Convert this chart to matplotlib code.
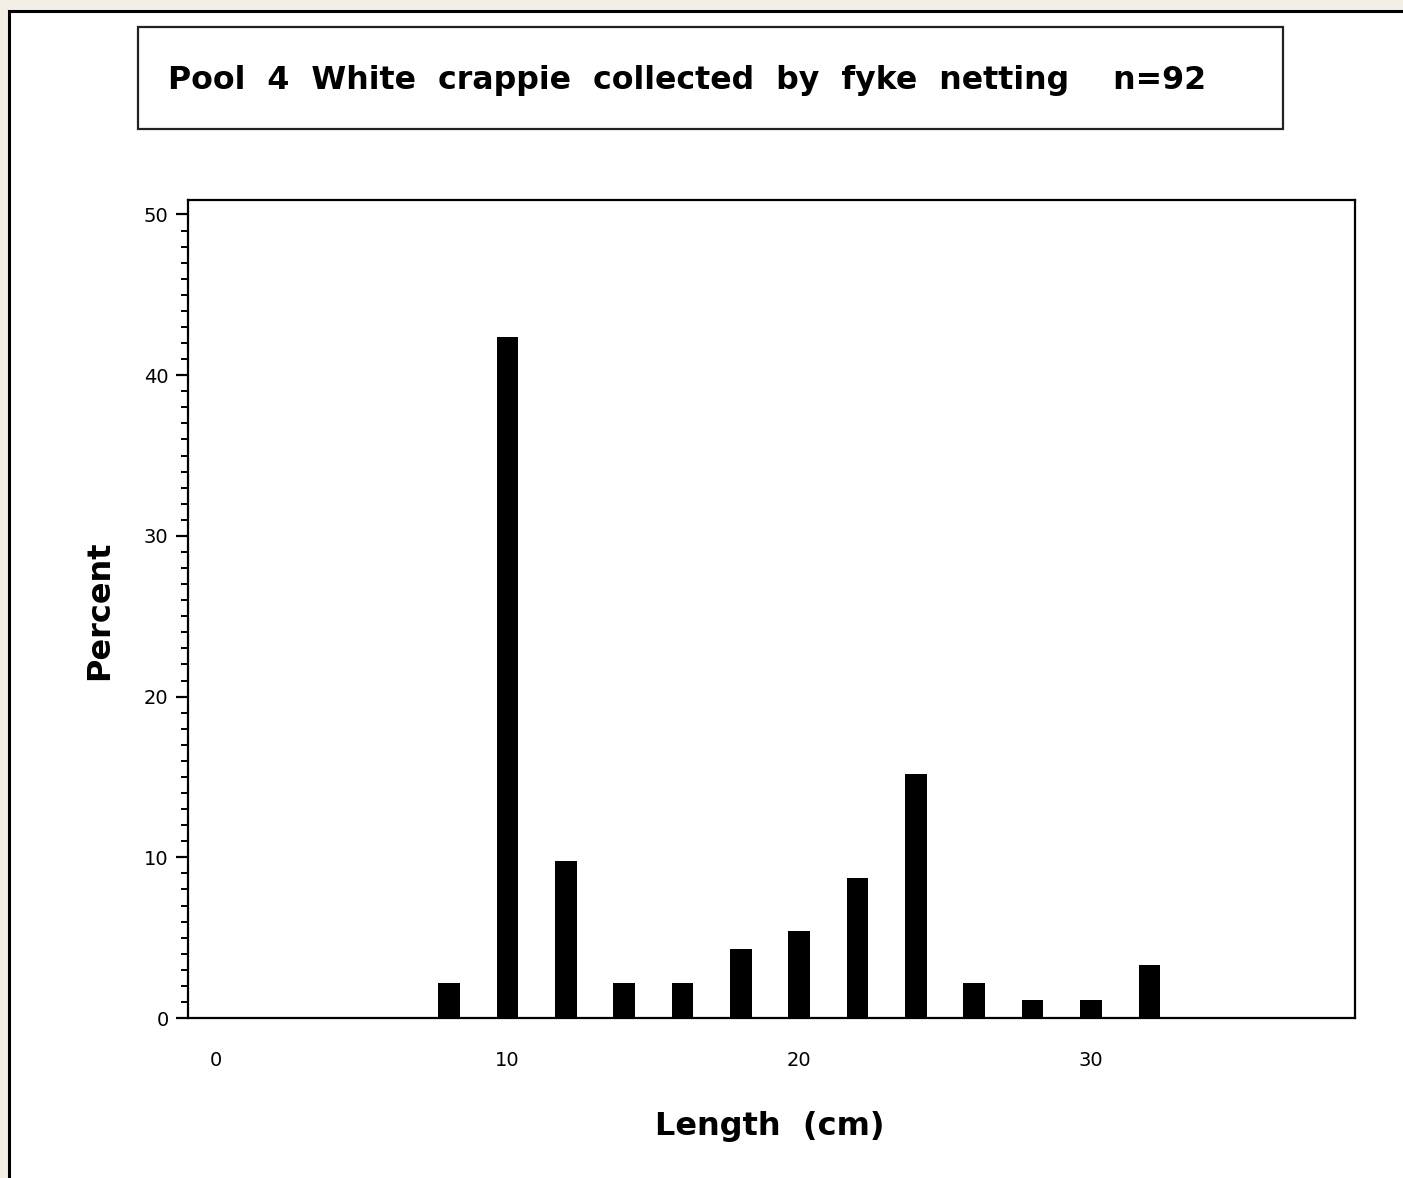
import matplotlib
matplotlib.use("Agg")
import matplotlib.pyplot as plt
from matplotlib.patches import Rectangle
from matplotlib.ticker import MultipleLocator

plt.rcParams["font.family"] = ["DejaVu Sans"]

# Length-frequency data (percent of n=92)
lengths = [8, 10, 12, 14, 16, 18, 20, 22, 24, 26, 28, 30, 32]
percent = [2.2, 42.4, 9.8, 2.2, 2.2, 4.3, 5.4, 8.7, 15.2, 2.2, 1.1, 1.1, 3.3]
x_ticks = [0, 10, 20, 30]
y_ticks = [0, 10, 20, 30, 40, 50]
title = "Pool  4  White  crappie  collected  by  fyke  netting    n=92"

W, H = 1403, 1178
fig = plt.figure(figsize=(W / 100, H / 100), dpi=100)
fig.patch.set_facecolor("#f3efe7")

# white panel with black border (runs off the right and bottom edges)
fig.patches.append(Rectangle((9 / W, -0.05), 1.1, 1 - 11 / H + 0.05,
                             transform=fig.transFigure, facecolor="white",
                             edgecolor="black", linewidth=2.2, zorder=-10))

# title box
fig.patches.append(Rectangle((138 / W, 1 - 129 / H), (1283 - 138) / W, (129 - 27) / H,
                             transform=fig.transFigure, facecolor="white",
                             edgecolor="#222222", linewidth=1.6, zorder=-5))
fig.text(168 / W, 1 - 81 / H, title, fontsize=22.8, fontweight="bold",
         ha="left", va="center")

ax = fig.add_axes([188 / W, 1 - 1018 / H, (1355 - 188) / W, (1018 - 200) / H])
ax.bar(lengths, percent, width=0.74, color="black")

ax.set_xlim(-0.95, 39.05)
ax.set_ylim(0, 50.9)
ax.set_xticks(x_ticks)
ax.set_yticks(y_ticks)
ax.yaxis.set_minor_locator(MultipleLocator(1))
ax.tick_params(axis="x", length=0, pad=24, labelsize=14)
ax.tick_params(axis="y", which="major", length=9, width=1.6, pad=5, labelsize=14)
ax.tick_params(axis="y", which="minor", length=5, width=1.4)
for s in ax.spines.values():
    s.set_linewidth(1.6)

fig.text(100 / W, 1 - 610 / H, "Percent", rotation=90, fontsize=23,
         fontweight="bold", ha="center", va="center")
fig.text(770 / W, 1 - 1127 / H, "Length  (cm)", fontsize=23,
         fontweight="bold", ha="center", va="center")

plt.savefig("out.png", dpi=100, facecolor=fig.get_facecolor())
